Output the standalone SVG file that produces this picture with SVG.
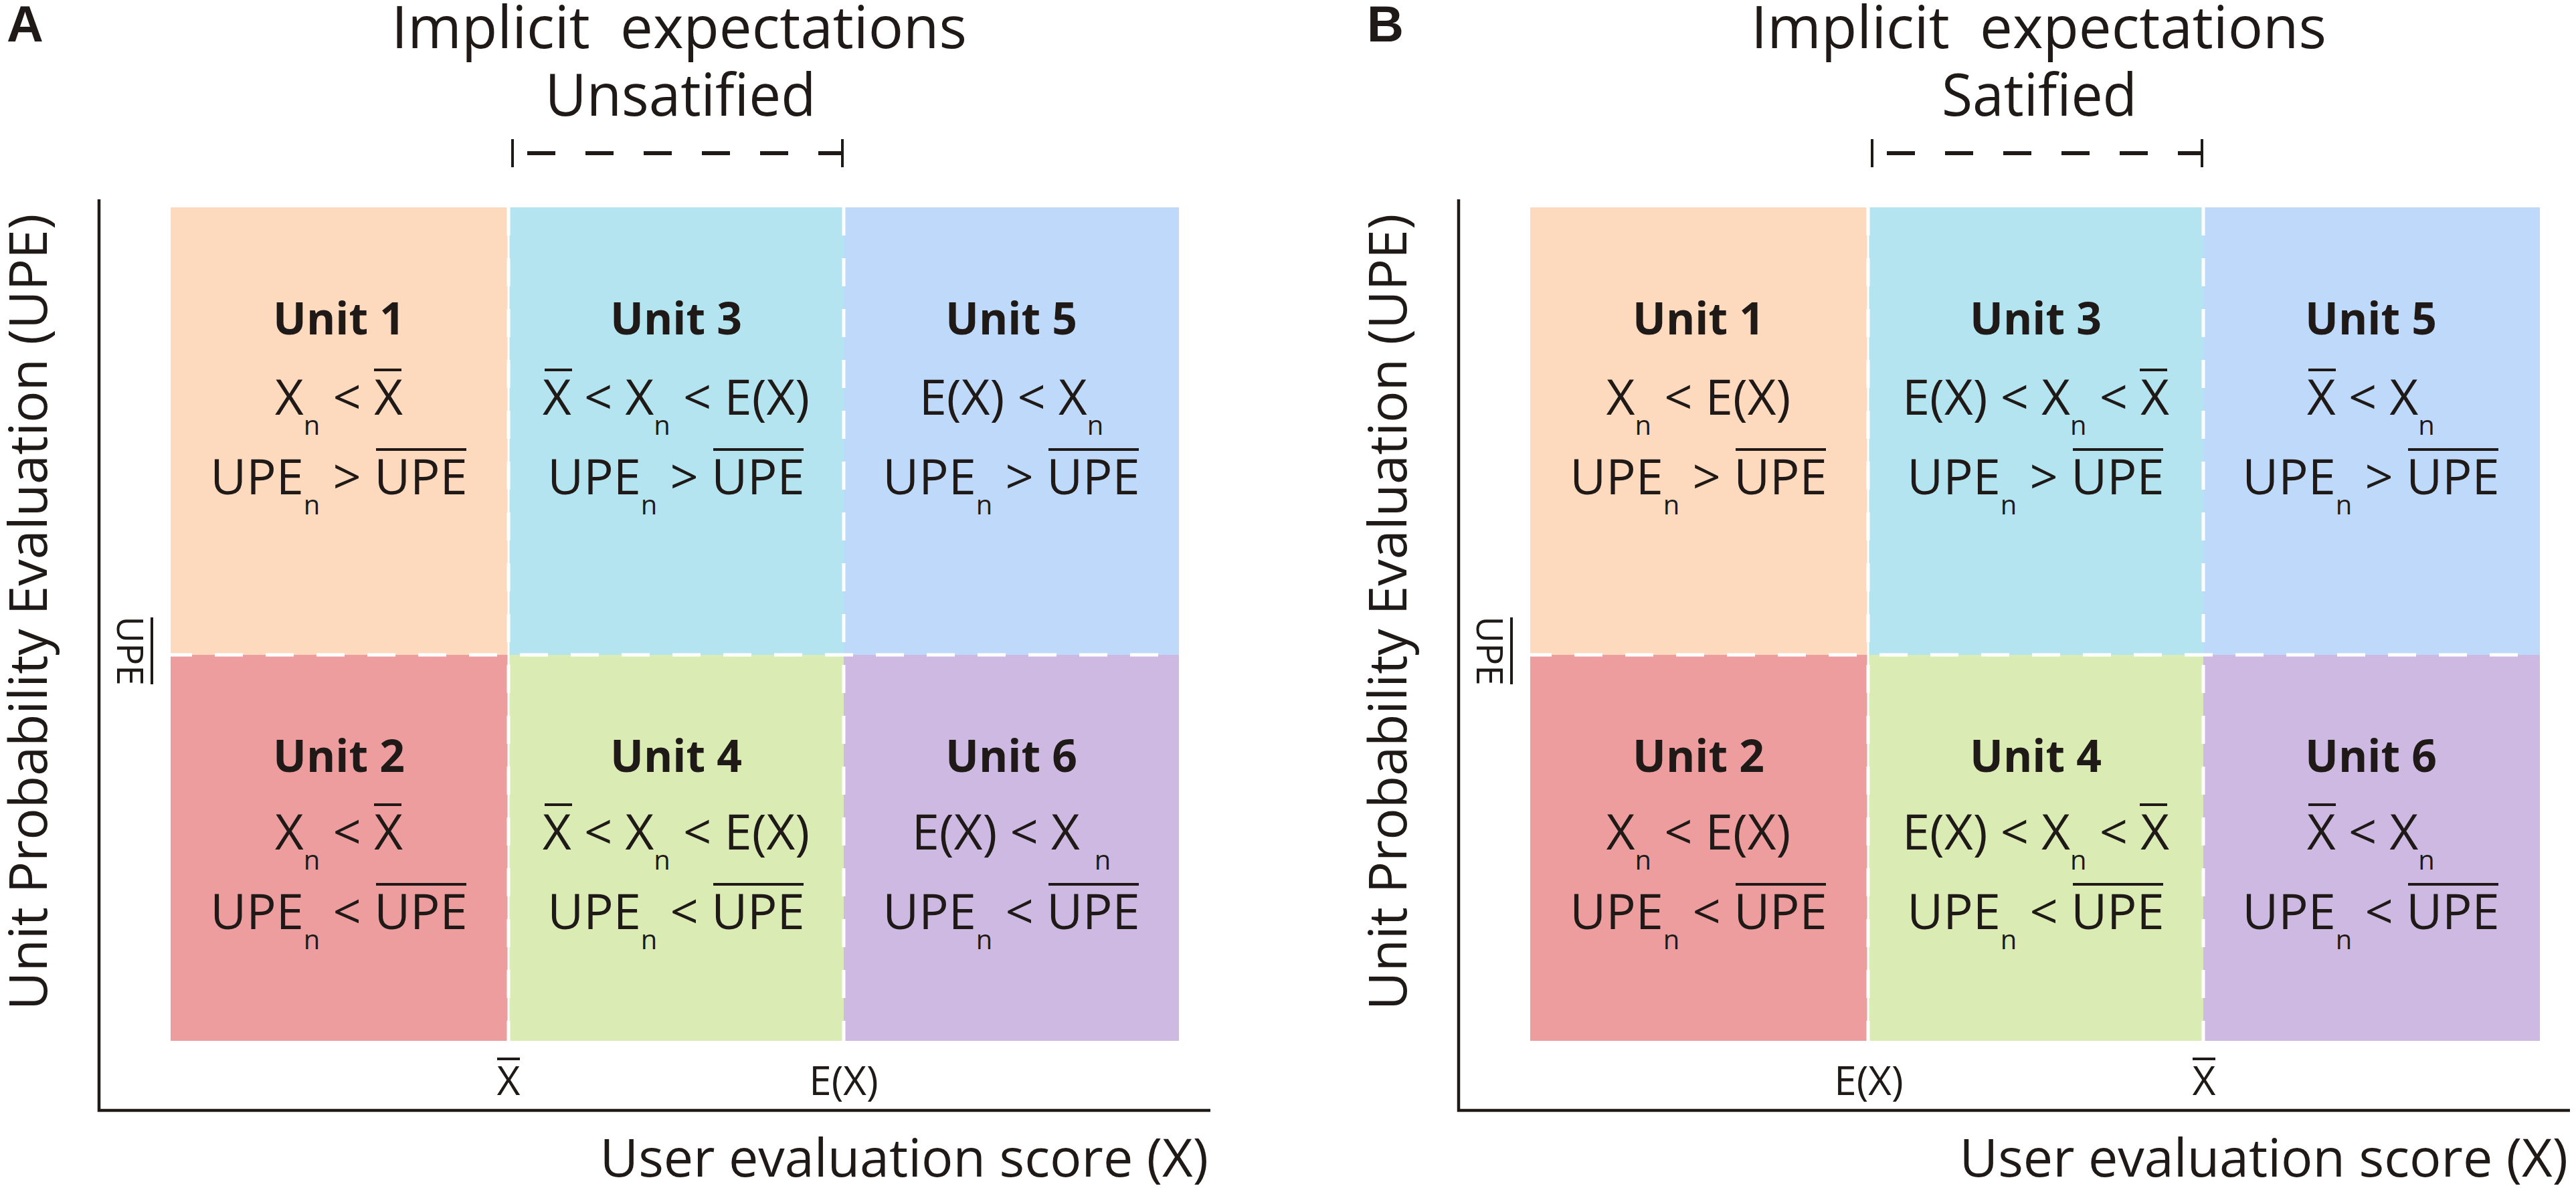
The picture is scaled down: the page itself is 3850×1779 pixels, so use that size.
<svg xmlns="http://www.w3.org/2000/svg" width="3850" height="1779" viewBox="0 0 3850 1779">
<style>
text{font-family:"Open Sans","Noto Sans","Liberation Sans",sans-serif;fill:#1f1a17}
.pl{font-family:"Liberation Sans",Arial,sans-serif;font-weight:bold;font-size:76px}
.ttl{font-size:88px}
.ax{font-size:79px}
.ut{font-size:66px;font-weight:bold}
.f{font-size:74px}
.s{font-size:40px}
.tk{font-size:60px}
.ol{stroke:#1f1a17;stroke-width:4}
.axis{stroke:#1f1a17;stroke-width:4.5;fill:none}
.dv{stroke:#fff;stroke-width:5;stroke-dasharray:42 34;fill:none}
.dvs{stroke:#fff;stroke-width:3;fill:none}
.br{stroke:#1f1a17;stroke-width:4;fill:none}
.brd{stroke:#1f1a17;stroke-width:6;stroke-dasharray:42 45;fill:none}
.c1{fill:#FDD9BE}.c2{fill:#EE9D9E}.c3{fill:#B4E4F0}.c4{fill:#DAEBB4}.c5{fill:#BED9F9}.c6{fill:#CDB9E2}
</style>
<rect width="3850" height="1779" fill="#fff"/>

<!-- ================= PANEL A ================= -->
<g id="panelA-label"><text class="pl" x="10" y="62">A</text></g>
<g id="panelA-title">
<text class="ttl" text-anchor="middle" xml:space="preserve"><tspan x="1015" y="72" textLength="860" lengthAdjust="spacingAndGlyphs">Implicit  expectations</tspan><tspan x="1017" y="173" textLength="405" lengthAdjust="spacingAndGlyphs">Unsatified</tspan></text>
</g>
<g id="panelA-bracket">
<line class="br" x1="766" y1="208" x2="766" y2="250"/>
<line class="br" x1="1259" y1="208" x2="1259" y2="250"/>
<line class="brd" x1="788" y1="229" x2="1259" y2="229"/>
</g>

<g id="A-unit1">
<rect class="c1" x="255" y="310" width="505" height="669"/>
<text class="ut" x="506.5" y="500" text-anchor="middle">Unit 1</text>
<text class="f" x="506.5" y="620" text-anchor="middle">X<tspan class="s" dy="30">n</tspan><tspan dy="-30"> &lt; X</tspan></text>
<line class="ol" x1="559" y1="553" x2="600" y2="553"/>
<text class="f" x="506.5" y="739" text-anchor="middle">UPE<tspan class="s" dy="30">n</tspan><tspan dy="-30"> &gt; UPE</tspan></text>
<line class="ol" x1="562" y1="672" x2="697" y2="672"/>
</g>
<g id="A-unit2">
<rect class="c2" x="255" y="979" width="505" height="577"/>
<text class="ut" x="506.5" y="1154" text-anchor="middle">Unit 2</text>
<text class="f" x="506.5" y="1270" text-anchor="middle">X<tspan class="s" dy="30">n</tspan><tspan dy="-30"> &lt; X</tspan></text>
<line class="ol" x1="559" y1="1203" x2="600" y2="1203"/>
<text class="f" x="506.5" y="1389" text-anchor="middle">UPE<tspan class="s" dy="30">n</tspan><tspan dy="-30"> &lt; UPE</tspan></text>
<line class="ol" x1="562" y1="1322" x2="697" y2="1322"/>
</g>
<g id="A-unit3">
<rect class="c3" x="760" y="310" width="501" height="669"/>
<text class="ut" x="1010.5" y="500" text-anchor="middle">Unit 3</text>
<text class="f" x="1010.5" y="620" text-anchor="middle">X &lt; X<tspan class="s" dy="30">n</tspan><tspan dy="-30"> &lt; E(X)</tspan></text>
<line class="ol" x1="814" y1="553" x2="855" y2="553"/>
<text class="f" x="1010.5" y="739" text-anchor="middle">UPE<tspan class="s" dy="30">n</tspan><tspan dy="-30"> &gt; UPE</tspan></text>
<line class="ol" x1="1066" y1="672" x2="1201" y2="672"/>
</g>
<g id="A-unit4">
<rect class="c4" x="760" y="979" width="501" height="577"/>
<text class="ut" x="1010.5" y="1154" text-anchor="middle">Unit 4</text>
<text class="f" x="1010.5" y="1270" text-anchor="middle">X &lt; X<tspan class="s" dy="30">n</tspan><tspan dy="-30"> &lt; E(X)</tspan></text>
<line class="ol" x1="814" y1="1203" x2="855" y2="1203"/>
<text class="f" x="1010.5" y="1389" text-anchor="middle">UPE<tspan class="s" dy="30">n</tspan><tspan dy="-30"> &lt; UPE</tspan></text>
<line class="ol" x1="1066" y1="1322" x2="1201" y2="1322"/>
</g>
<g id="A-unit5">
<rect class="c5" x="1261" y="310" width="501" height="669"/>
<text class="ut" x="1511.5" y="500" text-anchor="middle">Unit 5</text>
<text class="f" x="1511.5" y="620" text-anchor="middle">E(X) &lt; X<tspan class="s" dy="30">n</tspan></text>
<text class="f" x="1511.5" y="739" text-anchor="middle">UPE<tspan class="s" dy="30">n</tspan><tspan dy="-30"> &gt; UPE</tspan></text>
<line class="ol" x1="1567" y1="672" x2="1702" y2="672"/>
</g>
<g id="A-unit6">
<rect class="c6" x="1261" y="979" width="501" height="577"/>
<text class="ut" x="1511.5" y="1154" text-anchor="middle">Unit 6</text>
<text class="f" x="1511.5" y="1270" text-anchor="middle">E(X) &lt; X<tspan class="s" dx="22" dy="30">n</tspan></text>
<text class="f" x="1511.5" y="1389" text-anchor="middle">UPE<tspan class="s" dy="30">n</tspan><tspan dy="-30"> &lt; UPE</tspan></text>
<line class="ol" x1="1567" y1="1322" x2="1702" y2="1322"/>
</g>

<g id="A-dividers">
<line class="dvs" x1="760" y1="310" x2="760" y2="1556"/>
<line class="dv" x1="760" y1="310" x2="760" y2="1556"/>
<line class="dv" x1="1261" y1="310" x2="1261" y2="1556"/>
<line class="dv" x1="255" y1="979" x2="1762" y2="979" stroke-dashoffset="10"/>
</g>

<g id="A-axes">
<polyline class="axis" points="148,298 148,1660 1809,1660"/>
<text class="ax" transform="translate(70,915) rotate(-90)" text-anchor="middle">Unit Probability Evaluation (UPE)</text>
<g transform="translate(175,973) rotate(90)">
<text font-size="55" x="0" y="0" text-anchor="middle">UPE</text>
<line class="ol" x1="-50" y1="-52" x2="50" y2="-52"/>
</g>
<text class="tk" x="760" y="1637" text-anchor="middle">X</text>
<line class="ol" x1="743" y1="1583" x2="777" y2="1583"/>
<text class="tk" x="1261" y="1637" text-anchor="middle">E(X)</text>
<text class="ax" x="1806" y="1759" text-anchor="end">User evaluation score (X)</text>
</g>

<!-- ================= PANEL B ================= -->
<g id="panelB-label"><text class="pl" x="2043" y="62">B</text></g>
<g id="panelB-title">
<text class="ttl" text-anchor="middle" xml:space="preserve"><tspan x="3047" y="72" textLength="860" lengthAdjust="spacingAndGlyphs">Implicit  expectations</tspan><tspan x="3048" y="173" textLength="292" lengthAdjust="spacingAndGlyphs">Satified</tspan></text>
</g>
<g id="panelB-bracket">
<line class="br" x1="2798" y1="208" x2="2798" y2="250"/>
<line class="br" x1="3291" y1="208" x2="3291" y2="250"/>
<line class="brd" x1="2820" y1="229" x2="3291" y2="229"/>
</g>

<g id="B-unit1">
<rect class="c1" x="2287" y="310" width="505" height="669"/>
<text class="ut" x="2538.5" y="500" text-anchor="middle">Unit 1</text>
<text class="f" x="2538.5" y="620" text-anchor="middle">X<tspan class="s" dy="30">n</tspan><tspan dy="-30"> &lt; E(X)</tspan></text>
<text class="f" x="2538.5" y="739" text-anchor="middle">UPE<tspan class="s" dy="30">n</tspan><tspan dy="-30"> &gt; UPE</tspan></text>
<line class="ol" x1="2594" y1="672" x2="2729" y2="672"/>
</g>
<g id="B-unit2">
<rect class="c2" x="2287" y="979" width="505" height="577"/>
<text class="ut" x="2538.5" y="1154" text-anchor="middle">Unit 2</text>
<text class="f" x="2538.5" y="1270" text-anchor="middle">X<tspan class="s" dy="30">n</tspan><tspan dy="-30"> &lt; E(X)</tspan></text>
<text class="f" x="2538.5" y="1389" text-anchor="middle">UPE<tspan class="s" dy="30">n</tspan><tspan dy="-30"> &lt; UPE</tspan></text>
<line class="ol" x1="2594" y1="1322" x2="2729" y2="1322"/>
</g>
<g id="B-unit3">
<rect class="c3" x="2792" y="310" width="501" height="669"/>
<text class="ut" x="3042.5" y="500" text-anchor="middle">Unit 3</text>
<text class="f" x="3042.5" y="620" text-anchor="middle">E(X) &lt; X<tspan class="s" dy="30">n</tspan><tspan dy="-30"> &lt; X</tspan></text>
<line class="ol" x1="3198" y1="553" x2="3239" y2="553"/>
<text class="f" x="3042.5" y="739" text-anchor="middle">UPE<tspan class="s" dy="30">n</tspan><tspan dy="-30"> &gt; UPE</tspan></text>
<line class="ol" x1="3098" y1="672" x2="3233" y2="672"/>
</g>
<g id="B-unit4">
<rect class="c4" x="2792" y="979" width="501" height="577"/>
<text class="ut" x="3042.5" y="1154" text-anchor="middle">Unit 4</text>
<text class="f" x="3042.5" y="1270" text-anchor="middle">E(X) &lt; X<tspan class="s" dy="30">n</tspan><tspan dy="-30"> &lt; X</tspan></text>
<line class="ol" x1="3198" y1="1203" x2="3239" y2="1203"/>
<text class="f" x="3042.5" y="1389" text-anchor="middle">UPE<tspan class="s" dy="30">n</tspan><tspan dy="-30"> &lt; UPE</tspan></text>
<line class="ol" x1="3098" y1="1322" x2="3233" y2="1322"/>
</g>
<g id="B-unit5">
<rect class="c5" x="3293" y="310" width="503" height="669"/>
<text class="ut" x="3543.5" y="500" text-anchor="middle">Unit 5</text>
<text class="f" x="3543.5" y="620" text-anchor="middle">X &lt; X<tspan class="s" dy="30">n</tspan></text>
<line class="ol" x1="3450" y1="553" x2="3491" y2="553"/>
<text class="f" x="3543.5" y="739" text-anchor="middle">UPE<tspan class="s" dy="30">n</tspan><tspan dy="-30"> &gt; UPE</tspan></text>
<line class="ol" x1="3599" y1="672" x2="3734" y2="672"/>
</g>
<g id="B-unit6">
<rect class="c6" x="3293" y="979" width="503" height="577"/>
<text class="ut" x="3543.5" y="1154" text-anchor="middle">Unit 6</text>
<text class="f" x="3543.5" y="1270" text-anchor="middle">X &lt; X<tspan class="s" dy="30">n</tspan></text>
<line class="ol" x1="3450" y1="1203" x2="3491" y2="1203"/>
<text class="f" x="3543.5" y="1389" text-anchor="middle">UPE<tspan class="s" dy="30">n</tspan><tspan dy="-30"> &lt; UPE</tspan></text>
<line class="ol" x1="3599" y1="1322" x2="3734" y2="1322"/>
</g>

<g id="B-dividers">
<line class="dvs" x1="2792" y1="310" x2="2792" y2="1556"/>
<line class="dv" x1="2792" y1="310" x2="2792" y2="1556"/>
<line class="dv" x1="3293" y1="310" x2="3293" y2="1556"/>
<line class="dv" x1="2287" y1="979" x2="3796" y2="979" stroke-dashoffset="10"/>
</g>

<g id="B-axes">
<polyline class="axis" points="2180,298 2180,1660 3841,1660"/>
<text class="ax" transform="translate(2102,915) rotate(-90)" text-anchor="middle">Unit Probability Evaluation (UPE)</text>
<g transform="translate(2207,973) rotate(90)">
<text font-size="55" x="0" y="0" text-anchor="middle">UPE</text>
<line class="ol" x1="-50" y1="-52" x2="50" y2="-52"/>
</g>
<text class="tk" x="2793" y="1637" text-anchor="middle">E(X)</text>
<text class="tk" x="3294" y="1637" text-anchor="middle">X</text>
<line class="ol" x1="3277" y1="1583" x2="3311" y2="1583"/>
<text class="ax" x="3838" y="1759" text-anchor="end">User evaluation score (X)</text>
</g>
</svg>
